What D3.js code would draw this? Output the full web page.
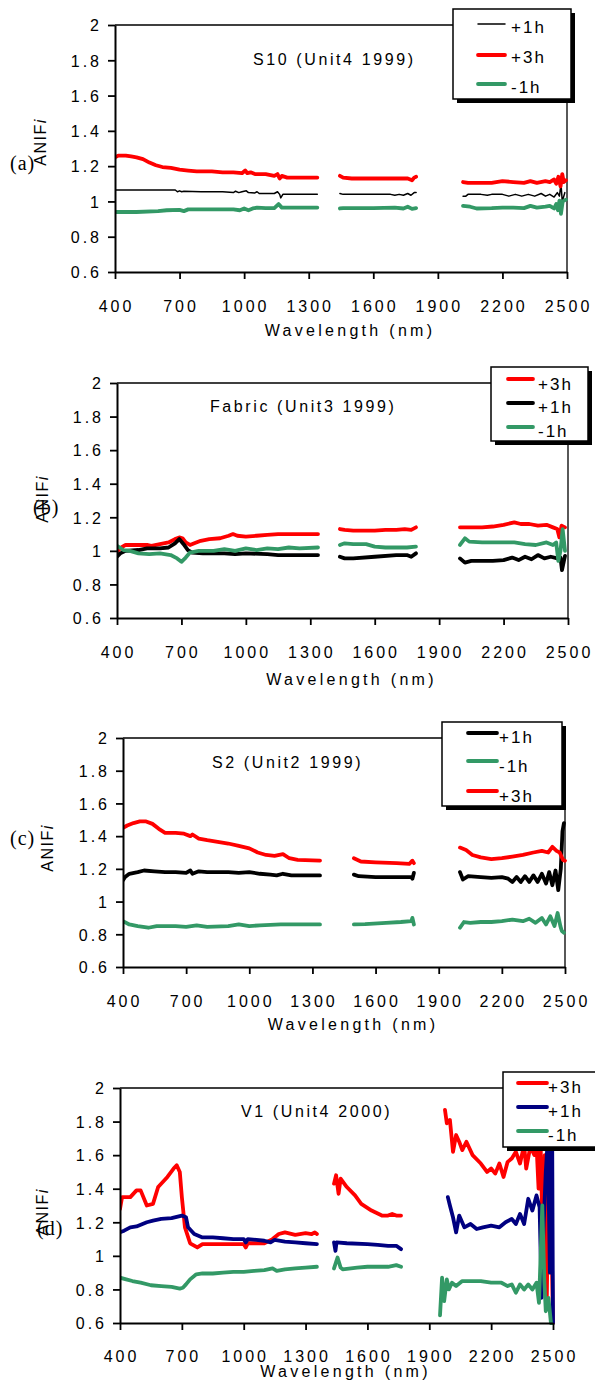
<!DOCTYPE html>
<html>
<head>
<meta charset="utf-8">
<script src="https://cdn.jsdelivr.net/npm/d3@7"></script>
<style>
  body { margin: 0; background: #fff; }
  svg { display: block; }
  text { font-family: "Liberation Sans", Arial, sans-serif; fill: #000; }
</style>
</head>
<body>
<script>
// tick labels shared by all four panels
const xTicks = [400, 700, 1000, 1300, 1600, 1900, 2200, 2500]
const yTicks = [0.6, 0.8, 1, 1.2, 1.4, 1.6, 1.8, 2]

// (a) S10 (Unit4 1999)  -- null = water band gap
const s10Plus1 = [[400,1.065],[500,1.065],[600,1.065],[680,1.065],[690,1.055],[700,1.06],[710,1.055],[720,1.058],[800,1.055],[900,1.055],[950,1.05],[960,1.058],[975,1.05],[990,1.055],[1010,1.06],[1020,1.05],[1050,1.048],[1060,1.055],[1070,1.045],[1100,1.045],[1140,1.045],[1155,1.055],[1165,1.04],[1170,1.02],[1180,1.04],[1250,1.04],[1340,1.04],null,
  [1445,1.045],[1460,1.04],[1600,1.04],[1680,1.04],[1700,1.035],[1720,1.04],[1740,1.035],[1760,1.045],[1775,1.035],[1790,1.05],[1799,1.05],null,
  [2017,1.03],[2030,1.03],[2040,1.04],[2100,1.04],[2130,1.035],[2150,1.04],[2200,1.04],[2230,1.03],[2260,1.04],[2290,1.03],[2320,1.04],[2350,1.03],[2380,1.045],[2400,1.03],[2420,1.04],[2440,1.025],[2455,1.05],[2465,1.03],[2472,1.1],[2478,1.0],[2490,1.05]]
const s10Plus3 = [[400,1.25],[415,1.26],[450,1.26],[475,1.255],[500,1.25],[530,1.24],[560,1.22],[590,1.205],[620,1.195],[660,1.19],[700,1.18],[740,1.175],[780,1.17],[850,1.17],[900,1.165],[950,1.165],[990,1.16],[1005,1.175],[1015,1.16],[1030,1.165],[1050,1.155],[1100,1.155],[1140,1.145],[1155,1.155],[1165,1.13],[1175,1.145],[1200,1.135],[1260,1.135],[1340,1.135],null,
  [1445,1.145],[1460,1.135],[1500,1.13],[1600,1.13],[1700,1.13],[1760,1.13],[1780,1.12],[1790,1.135],[1799,1.14],null,
  [2017,1.11],[2040,1.105],[2100,1.105],[2150,1.105],[2200,1.115],[2250,1.11],[2300,1.105],[2330,1.115],[2360,1.105],[2400,1.115],[2420,1.11],[2440,1.125],[2450,1.1],[2460,1.14],[2470,1.085],[2478,1.155],[2485,1.11],[2495,1.12]]
const s10Minus1 = [[400,0.94],[500,0.94],[600,0.945],[640,0.95],[700,0.952],[720,0.945],[740,0.955],[800,0.955],[900,0.955],[950,0.955],[980,0.95],[1000,0.96],[1020,0.95],[1040,0.96],[1060,0.965],[1100,0.962],[1140,0.962],[1160,0.985],[1175,0.965],[1250,0.965],[1340,0.965],null,
  [1445,0.96],[1460,0.962],[1600,0.962],[1700,0.965],[1740,0.96],[1760,0.97],[1780,0.958],[1799,0.962],null,
  [2017,0.975],[2050,0.97],[2080,0.96],[2150,0.962],[2200,0.965],[2250,0.965],[2300,0.962],[2330,0.975],[2360,0.965],[2400,0.97],[2420,0.975],[2440,0.96],[2450,0.985],[2458,0.95],[2465,1.005],[2472,0.93],[2480,1.0],[2495,1.01]]

// (b) Fabric (Unit3 1999)
const fabPlus3 = [[400,0.995],[420,1.02],[440,1.035],[500,1.035],[540,1.035],[560,1.03],[600,1.04],[640,1.05],[670,1.07],[690,1.08],[705,1.075],[720,1.05],[740,1.035],[760,1.045],[790,1.06],[830,1.07],[880,1.075],[920,1.09],[940,1.1],[960,1.09],[1000,1.085],[1050,1.09],[1100,1.095],[1150,1.1],[1250,1.1],[1336,1.1],null,
  [1438,1.13],[1460,1.125],[1500,1.12],[1600,1.12],[1650,1.125],[1700,1.125],[1740,1.13],[1770,1.125],[1792,1.14],null,
  [1997,1.14],[2050,1.14],[2100,1.14],[2150,1.145],[2200,1.155],[2250,1.17],[2280,1.16],[2320,1.16],[2360,1.15],[2400,1.155],[2430,1.14],[2450,1.13],[2460,1.08],[2470,1.15],[2486,1.14]]
const fabPlus1 = [[400,0.965],[415,0.985],[440,1.0],[500,1.005],[540,1.015],[600,1.015],[640,1.02],[670,1.045],[690,1.07],[710,1.04],[730,1.005],[750,0.99],[800,0.985],[900,0.985],[950,0.98],[1000,0.985],[1100,0.98],[1150,0.975],[1200,0.975],[1336,0.975],null,
  [1438,0.965],[1460,0.955],[1500,0.955],[1600,0.965],[1700,0.975],[1750,0.975],[1770,0.965],[1792,0.985],null,
  [1997,0.955],[2020,0.93],[2050,0.94],[2150,0.94],[2200,0.945],[2240,0.96],[2270,0.945],[2300,0.965],[2330,0.95],[2360,0.975],[2390,0.955],[2420,0.965],[2450,0.955],[2465,0.96],[2472,0.885],[2486,0.97]]
const fabMinus1 = [[400,1.03],[430,1.005],[460,1.0],[500,0.985],[550,0.98],[600,0.985],[650,0.975],[680,0.955],[700,0.935],[720,0.96],[740,0.99],[780,1.0],[850,1.0],[900,1.01],[950,1.0],[1000,1.015],[1050,1.005],[1100,1.015],[1150,1.01],[1200,1.02],[1250,1.015],[1336,1.02],null,
  [1438,1.035],[1460,1.045],[1500,1.04],[1560,1.04],[1600,1.025],[1650,1.02],[1700,1.02],[1750,1.02],[1792,1.025],null,
  [1997,1.035],[2020,1.075],[2040,1.055],[2100,1.05],[2200,1.05],[2250,1.05],[2300,1.04],[2350,1.035],[2400,1.05],[2430,1.035],[2445,1.05],[2455,0.94],[2465,1.0],[2475,1.13],[2486,1.0]]

// (c) S2 (Unit2 1999)
const s2Plus1 = [[400,1.13],[410,1.15],[430,1.17],[470,1.18],[500,1.19],[550,1.185],[600,1.18],[650,1.18],[700,1.175],[720,1.19],[730,1.17],[760,1.185],[800,1.18],[900,1.18],[950,1.175],[1000,1.18],[1050,1.17],[1100,1.165],[1130,1.16],[1160,1.17],[1200,1.16],[1336,1.16],null,
  [1497,1.165],[1520,1.155],[1600,1.15],[1700,1.15],[1770,1.15],[1775,1.14],[1782,1.175],null,
  [2001,1.18],[2015,1.135],[2040,1.155],[2100,1.15],[2150,1.145],[2200,1.15],[2230,1.14],[2250,1.12],[2270,1.15],[2290,1.12],[2310,1.155],[2330,1.12],[2350,1.16],[2370,1.12],[2390,1.17],[2410,1.11],[2425,1.18],[2440,1.1],[2455,1.19],[2468,1.07],[2480,1.2],[2488,1.43],[2495,1.48]]
const s2Minus1 = [[400,0.88],[430,0.86],[470,0.85],[520,0.84],[560,0.85],[650,0.85],[700,0.845],[750,0.855],[800,0.845],[900,0.85],[950,0.86],[1000,0.85],[1050,0.855],[1150,0.86],[1200,0.86],[1336,0.86],null,
  [1497,0.86],[1550,0.862],[1650,0.87],[1720,0.875],[1770,0.88],[1775,0.9],[1782,0.86],null,
  [2001,0.84],[2020,0.875],[2050,0.87],[2100,0.875],[2150,0.875],[2200,0.88],[2250,0.89],[2300,0.88],[2330,0.895],[2360,0.87],[2390,0.9],[2410,0.86],[2430,0.91],[2450,0.85],[2465,0.93],[2478,0.85],[2485,0.82],[2495,0.81]]
const s2Plus3 = [[400,1.45],[420,1.465],[450,1.48],[480,1.49],[510,1.49],[540,1.475],[570,1.445],[600,1.42],[650,1.42],[690,1.415],[720,1.4],[730,1.41],[760,1.385],[800,1.375],[850,1.365],[900,1.355],[950,1.34],[1000,1.325],[1040,1.3],[1080,1.285],[1120,1.28],[1160,1.29],[1190,1.265],[1230,1.255],[1336,1.25],null,
  [1497,1.265],[1530,1.245],[1600,1.24],[1700,1.235],[1760,1.23],[1775,1.25],[1782,1.235],null,
  [2001,1.33],[2030,1.315],[2060,1.285],[2100,1.27],[2150,1.26],[2200,1.265],[2250,1.275],[2300,1.285],[2350,1.3],[2390,1.31],[2420,1.3],[2440,1.335],[2460,1.31],[2475,1.3],[2490,1.255],[2500,1.25]]

// (d) V1 (Unit4 2000)
const v1Plus3 = [[400,1.28],[410,1.35],[450,1.35],[480,1.39],[500,1.39],[530,1.3],[560,1.31],[585,1.41],[630,1.47],[660,1.52],[675,1.54],[690,1.5],[700,1.35],[715,1.17],[740,1.075],[775,1.05],[800,1.07],[900,1.07],[1000,1.07],[1010,1.05],[1020,1.075],[1100,1.075],[1140,1.1],[1170,1.13],[1200,1.14],[1250,1.125],[1300,1.135],[1330,1.13],[1345,1.14],[1355,1.13],null,
  [1438,1.43],[1448,1.48],[1460,1.37],[1470,1.46],[1500,1.41],[1540,1.36],[1570,1.31],[1620,1.27],[1670,1.24],[1700,1.24],[1720,1.25],[1740,1.24],[1763,1.24],null,
  [1976,1.87],[1985,1.79],[2000,1.81],[2015,1.62],[2030,1.72],[2045,1.68],[2060,1.63],[2080,1.68],[2110,1.6],[2150,1.55],[2180,1.5],[2200,1.52],[2220,1.49],[2240,1.55],[2260,1.47],[2280,1.56],[2300,1.58],[2320,1.62],[2340,1.55],[2360,1.66],[2370,1.52],[2390,1.65],[2410,1.6],[2420,1.66],[2430,1.4],[2440,1.66],[2450,1.1],[2460,1.6],[2470,0.75],[2480,1.7],[2490,1.3],[2500,0.6]]
const v1Plus1 = [[400,1.14],[420,1.15],[450,1.17],[480,1.175],[530,1.2],[560,1.21],[600,1.22],[650,1.225],[700,1.24],[720,1.23],[730,1.17],[760,1.13],[800,1.11],[850,1.11],[900,1.105],[950,1.1],[1000,1.1],[1010,1.08],[1020,1.1],[1100,1.09],[1130,1.08],[1150,1.095],[1200,1.085],[1250,1.08],[1300,1.075],[1355,1.07],null,
  [1438,1.08],[1445,1.03],[1450,1.08],[1500,1.075],[1600,1.07],[1650,1.065],[1700,1.06],[1740,1.06],[1763,1.04],null,
  [1990,1.35],[2000,1.3],[2015,1.23],[2030,1.14],[2045,1.24],[2070,1.17],[2100,1.19],[2130,1.16],[2160,1.17],[2200,1.18],[2240,1.17],[2270,1.2],[2300,1.22],[2320,1.19],[2340,1.25],[2360,1.19],[2380,1.34],[2400,1.27],[2420,1.36],[2435,1.29],[2445,0.75],[2455,1.2],[2465,1.5],[2475,1.7],[2485,0.9],[2495,2.0],[2500,0.6]]
const v1Minus1 = [[400,0.87],[430,0.86],[460,0.85],[500,0.84],[550,0.825],[600,0.82],[650,0.815],[690,0.805],[705,0.81],[720,0.83],[740,0.86],[770,0.89],[800,0.895],[850,0.895],[900,0.9],[950,0.905],[1000,0.905],[1050,0.91],[1100,0.915],[1140,0.925],[1160,0.91],[1200,0.92],[1250,0.925],[1300,0.93],[1355,0.935],null,
  [1438,0.925],[1455,0.99],[1470,0.93],[1480,0.92],[1550,0.93],[1600,0.935],[1650,0.935],[1700,0.935],[1740,0.945],[1763,0.935],null,
  [1952,0.645],[1962,0.87],[1972,0.73],[1985,0.86],[1995,0.8],[2010,0.84],[2030,0.82],[2060,0.85],[2100,0.85],[2150,0.85],[2200,0.84],[2250,0.84],[2280,0.82],[2300,0.83],[2320,0.78],[2340,0.83],[2360,0.8],[2380,0.83],[2400,0.8],[2420,0.84],[2432,0.72],[2440,1.0],[2448,1.3],[2458,0.85],[2465,0.67],[2478,0.75],[2490,0.6],[2500,0.58]]

const RED = "#ff0000", GREEN = "#339966", BLACK = "#000000", NAVY = "#000080"

let panels = [
  {lab:"(a)", labX:10, labY:170, ylabX:46, ylabY:142,
   l:115, t:25, r:567, b:272, title:"S10 (Unit4 1999)", titleX:253, titleY:65,
   series:[{name:"+1h", data:s10Plus1, color:BLACK, w:1.5},
           {name:"+3h", data:s10Plus3, color:RED, w:3.8},
           {name:"-1h", data:s10Minus1, color:GREEN, w:3.8}],
   leg:{x:453, y:9, w:118, h:90, x1:478, x2:505, tx:511, ly:[24,55,84], ty:[33,63,93]},
   tickY:312, axY:336},
  {lab:"(b)", labX:33, labY:514, ylabX:48, ylabY:499,
   l:117, t:383, r:568, b:618, title:"Fabric (Unit3 1999)", titleX:210, titleY:412,
   series:[{name:"+3h", data:fabPlus3, color:RED, w:3.8},
           {name:"+1h", data:fabPlus1, color:BLACK, w:3.8},
           {name:"-1h", data:fabMinus1, color:GREEN, w:3.8}],
   leg:{x:491, y:367, w:97, h:74, x1:508, x2:533, tx:538, ly:[379,403,427], ty:[390,413,437]},
   tickY:658, axY:685},
  {lab:"(c)", labX:10, labY:845, ylabX:53, ylabY:848,
   l:123, t:738, r:565, b:967, title:"S2 (Unit2 1999)", titleX:212, titleY:768,
   series:[{name:"+1h", data:s2Plus1, color:BLACK, w:3.8},
           {name:"-1h", data:s2Minus1, color:GREEN, w:3.8},
           {name:"+3h", data:s2Plus3, color:RED, w:3.8}],
   leg:{x:442, y:722, w:120, h:84, x1:468, x2:497, tx:499, ly:[733,761,791], ty:[743,772,802]},
   tickY:1007, axY:1030},
  {lab:"(d)", labX:37, labY:1235, ylabX:48, ylabY:1212,
   l:120, t:1088, r:553, b:1323, title:"V1 (Unit4 2000)", titleX:241, titleY:1117,
   series:[{name:"+3h", data:v1Plus3, color:RED, w:3.8},
           {name:"+1h", data:v1Plus1, color:NAVY, w:3.8},
           {name:"-1h", data:v1Minus1, color:GREEN, w:3.8}],
   leg:{x:503, y:1072, w:100, h:75, x1:518, x2:547, tx:548, ly:[1083,1107,1131], ty:[1093,1117,1141]},
   tickY:1362, axY:1377}
]

let svg = d3.select("body").append("svg")
    .attr("width", 595)
    .attr("height", 1387)

panels.forEach((p, i) => {
    let x = d3.scaleLinear().domain([400, 2500]).range([p.l, p.r])
    let y = d3.scaleLinear().domain([0.6, 2]).range([p.b, p.t])
    let g = svg.append("g")

    //frame top + right
    g.append("path")
        .attr("d", `M${p.l},${p.t}H${p.r}V${p.b}`)
        .attr("fill", "none").attr("stroke", "#000").attr("stroke-width", 1.3)

    //data
    g.append("clipPath").attr("id", "clip" + i)
        .append("rect").attr("x", p.l).attr("y", p.t - 2).attr("width", p.r - p.l + 3).attr("height", p.b - p.t + 4)
    let line = d3.line()
        .defined(d => d !== null)
        .x(d => x(d[0]))
        .y(d => y(d[1]))
    p.series.forEach(s => {
        g.append("path")
            .attr("d", line(s.data))
            .attr("clip-path", `url(#clip${i})`)
            .attr("fill", "none")
            .attr("stroke", s.color)
            .attr("stroke-width", s.w)
            .attr("stroke-linejoin", "round")
            .attr("stroke-linecap", "round")
    })

    //axes
    let xa = g.append("g")
        .attr("transform", `translate(0,${p.b})`)
        .call(d3.axisBottom(x).tickValues(xTicks).tickSize(7).tickSizeOuter(0).tickFormat(d => d))
    xa.selectAll("text").remove()
    let ya = g.append("g")
        .attr("transform", `translate(${p.l},0)`)
        .call(d3.axisLeft(y).tickValues(yTicks).tickSize(7).tickSizeOuter(0).tickFormat(d => String(d)))
    ;[xa, ya].forEach(a => {
        a.select(".domain").attr("stroke-width", 2)
        a.selectAll(".tick line").attr("stroke-width", 1.8)
        a.attr("font-family", null).attr("font-size", null)
    })
    ya.selectAll("text")
        .attr("x", -13)
        .attr("dy", "0.36em")
        .style("font-size", "16px")
        .style("letter-spacing", "3px")
    xTicks.forEach(v => {
        g.append("text")
            .attr("x", x(v) + 1.5)
            .attr("y", p.tickY)
            .attr("text-anchor", "middle")
            .style("font-size", "16px")
            .style("letter-spacing", "3px")
            .text(v)
    })

    //titles
    g.append("text")
        .attr("x", (p.l + p.r) / 2 + 9)
        .attr("y", p.axY)
        .attr("text-anchor", "middle")
        .style("font-size", "16px")
        .style("letter-spacing", "3.3px")
        .text("Wavelength (nm)")
    g.append("text")
        .attr("x", p.titleX)
        .attr("y", p.titleY)
        .style("font-size", "16px")
        .style("letter-spacing", "2.6px")
        .text(p.title)
    let yl = g.append("text")
        .attr("transform", `translate(${p.ylabX},${p.ylabY}) rotate(-90)`)
        .attr("text-anchor", "middle")
        .style("font-size", "16px")
        .style("letter-spacing", "1.5px")
    yl.append("tspan").text("ANIF")
    yl.append("tspan").style("font-style", "italic").text("i")
    g.append("text")
        .attr("x", p.labX)
        .attr("y", p.labY)
        .style("font-family", "'Liberation Serif', 'Times New Roman', serif")
        .style("font-size", "20px")
        .style("letter-spacing", "1px")
        .text(p.lab)

    //legend
    let lg = g.append("g")
    lg.append("rect")
        .attr("x", p.leg.x + 4).attr("y", p.leg.y + 4)
        .attr("width", p.leg.w).attr("height", p.leg.h)
        .attr("fill", "#000")
    lg.append("rect")
        .attr("x", p.leg.x).attr("y", p.leg.y)
        .attr("width", p.leg.w).attr("height", p.leg.h)
        .attr("fill", "#fff").attr("stroke", "#000").attr("stroke-width", 1.5)
    p.series.forEach((s, k) => {
        lg.append("line")
            .attr("x1", p.leg.x1).attr("x2", p.leg.x2)
            .attr("y1", p.leg.ly[k]).attr("y2", p.leg.ly[k])
            .attr("stroke", s.color)
            .attr("stroke-width", s.w)
            .attr("stroke-linecap", "round")
        lg.append("text")
            .attr("x", p.leg.tx)
            .attr("y", p.leg.ty[k])
            .style("font-size", "17px")
            .style("letter-spacing", "2px")
            .text(s.name)
    })
})
</script>
</body>
</html>
